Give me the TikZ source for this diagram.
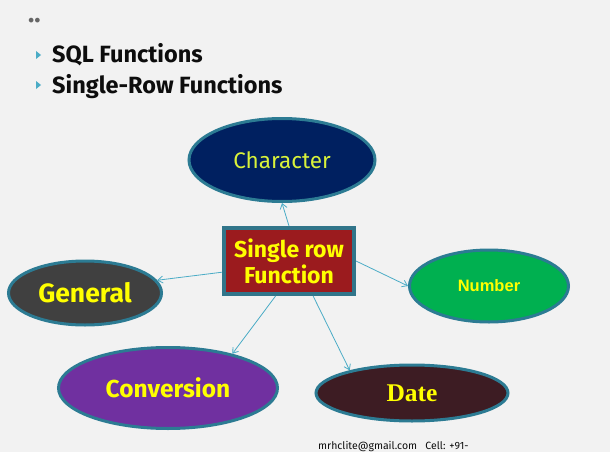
\documentclass[tikz,border=0pt]{standalone}
\usepackage{fontspec}
\setmainfont{Fira Sans}
\newfontfamily\arialf{Liberation Sans}
\newfontfamily\seriff{Liberation Serif}
\usetikzlibrary{arrows.meta,calc,shapes.geometric}
\definecolor{bg}{HTML}{F2F2F2}
\definecolor{ringc}{HTML}{2C7B93}
\definecolor{boxring}{HTML}{31758A}
\definecolor{linkc}{HTML}{4BACC6}
\definecolor{yel}{HTML}{FFFF00}
\definecolor{charyel}{HTML}{D9F23A}
\definecolor{charfill}{HTML}{002060}
\definecolor{genfill}{HTML}{404040}
\definecolor{numfill}{HTML}{00B050}
\definecolor{convfill}{HTML}{7030A0}
\definecolor{datefill}{HTML}{3D1C23}
\definecolor{boxfill}{HTML}{9B1B1E}
\definecolor{titlec}{HTML}{0D0D0D}
\definecolor{bulc}{HTML}{4BACC6}
\begin{document}
\begin{tikzpicture}[x=1pt,y=-1pt,
  oval/.style={ellipse, draw=ringc, line width=3pt, inner sep=0pt, text=yel},
  link/.style={draw=linkc, line width=0.8pt, -{Straight Barb[length=5pt,width=7pt]}},
  title/.style={anchor=base west, text=titlec, inner sep=0pt, font=\fontsize{23.5}{28}\selectfont\bfseries}]
\fill[bg] (0,0) rectangle (610,452);
\useasboundingbox (0,0) rectangle (610,452);
% header
\node[anchor=base west, inner sep=0pt, text=gray!80!black, font=\fontsize{26}{30}\selectfont\bfseries] (dots) at (28,23) {..};
\fill[bulc] (36,51) -- (41,55) -- (36,59) -- cycle;
\fill[bulc] (36,81) -- (41,85) -- (36,89) -- cycle;
\node[title] (t1) at (52,63) {SQL Functions};
\node[title] (t2) at (52,93) {Single-Row Functions};
% nodes
\node[draw=boxring, line width=4pt, fill=boxfill, minimum width=130, minimum height=66, inner sep=0pt,
      text=yel, align=center, font=\fontsize{23}{26}\selectfont\bfseries] (box) at (289,261) {Single row\\Function};
\node[oval, fill=charfill, minimum width=186, minimum height=83, text=charyel,
      font=\fontsize{22.5}{26}\selectfont] (char) at (282,160) {Character};
\node[oval, fill=genfill, minimum width=153, minimum height=64,
      font=\fontsize{26.5}{30}\selectfont\bfseries] (gen) at (85,293) {General};
\node[oval, fill=numfill, minimum width=159, minimum height=72,
      font=\arialf\fontsize{16.5}{19}\selectfont\bfseries] (num) at (489,286) {Number};
\node[oval, fill=convfill, minimum width=219, minimum height=81,
      font=\fontsize{24.5}{28}\selectfont\bfseries] (conv) at (168,388) {Conversion};
\node[oval, fill=datefill, minimum width=192, minimum height=56,
      font=\seriff\fontsize{25.5}{28}\selectfont\bfseries] (date) at (412,393) {Date};
% connectors
\draw[link] (box.north) -- (char.south);
\draw[link] ($(box.south west)!0.34!(box.north west)$) -- (gen.10);
\draw[link] (box.east) -- (num.west);
\draw[link] ($(box.south west)!0.4!(box.south east)$) -- (conv.28);
\draw[link] ($(box.south west)!0.68!(box.south east)$) -- (date.160);
% footer
\node[anchor=base west, inner sep=0pt, text=titlec, font=\fontsize{10.5}{12}\selectfont] (foot) at (318,449) {mrhclite@gmail.com\ \ \ Cell: +91-};
\end{tikzpicture}
\end{document}
